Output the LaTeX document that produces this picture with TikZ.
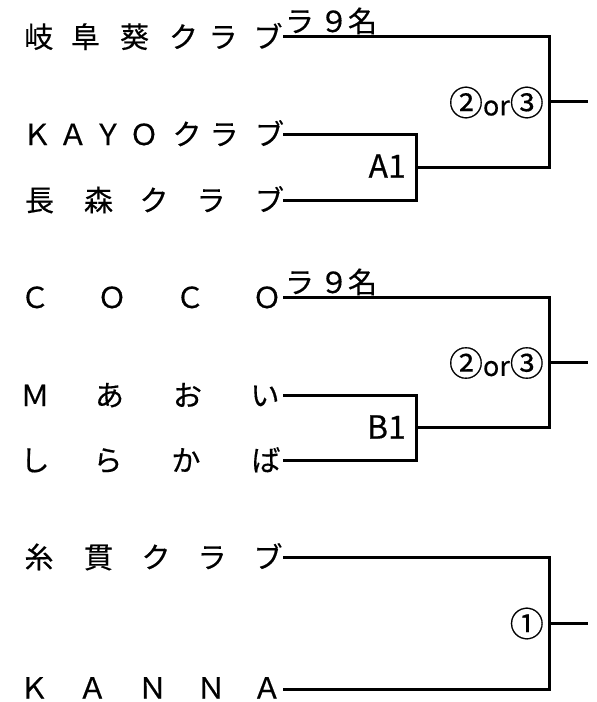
\documentclass[tikz,border=0pt]{standalone}
\usepackage{fontspec}
\setmainfont{Noto Sans CJK JP}[FakeBold=0.4]
\newfontfamily\jpb{Noto Sans CJK JP}[FakeBold=0.4]
\tikzset{
  ch/.style={inner sep=0pt, anchor=base, text depth=0pt, font=\jpb\fontsize{29}{32}\selectfont},
  br/.style={line width=3pt, line join=miter},
  res/.style={inner sep=0pt, anchor=east, font=\jpb\fontsize{27}{30}\selectfont},
  seed/.style={inner sep=0pt, anchor=east, font=\jpb\fontsize{32}{34}\selectfont},
}
\newcommand\cnum[1]{{\fontsize{34}{34}\selectfont #1}}
\newcommand\charrow[4][11]{%
  \foreach \cx/\tch [count=\i] in {#4}{\node[ch] (#2-\i) at (\cx,#3+#1) {\tch};}}
\newcommand\teamrow[4][11]{\charrow[#1]{#2}{#3}{#4}\coordinate (#2) at (283,#3);}
\begin{document}
\begin{tikzpicture}[x=1pt,y=-1pt]
\useasboundingbox[fill=white] (0,0) rectangle (597,702);

% ---- group 1
\teamrow{gifu}{36.7}{38.8/岐,85.5/阜,134.5/葵,183.5/ク,223/ラ,268/ブ}
\charrow{lab1}{21}{299.5/ラ,334/９,362.5/名}
\teamrow{kayo}{134}{37/Ｋ,73/Ａ,108/Ｙ,144/Ｏ,187/ク,224/ラ,269.5/ブ}
\teamrow{naga}{200}{39.5/長,98.5/森,154/ク,211/ラ,269.5/ブ}
\coordinate (JA) at (416,167);
\coordinate (J1) at (549,101.85);
\coordinate (O1) at (588,101.85);
\draw[br] (kayo) -| (JA) |- (naga);
\draw[br] (gifu) -| (J1) |- (JA);
\draw[br] (J1) -- (O1);
\node[seed] (A1) at (406,166) {A1};
\node[res] (R1) at (544,102.5) {\cnum{②}or\cnum{③}};

% ---- group 2
\teamrow{coco}{297}{35/Ｃ,112/Ｏ,190/Ｃ,267/Ｏ}
\charrow{lab2}{282}{299.5/ラ,334/９,362.5/名}
\teamrow{maoi}{395}{35/Ｍ,109.5/あ,187.5/お,265/い}
\teamrow{shira}{460}{35/し,108/ら,186/か,266/ば}
\coordinate (JB) at (416,427.5);
\coordinate (J2) at (549,362.25);
\coordinate (O2) at (588,362.25);
\draw[br] (maoi) -| (JB) |- (shira);
\draw[br] (coco) -| (J2) |- (JB);
\draw[br] (J2) -- (O2);
\node[seed] (B1) at (406,427) {B1};
\node[res] (R2) at (544,363) {\cnum{②}or\cnum{③}};

% ---- group 3
\teamrow{itonuki}{557}{39/糸,98.5/貫,156/ク,212/ラ,268/ブ}
\teamrow[9.5]{kanna}{689}{34/Ｋ,92.5/Ａ,152.5/Ｎ,211/Ｎ,267/Ａ}
\coordinate (J3) at (549,623);
\coordinate (O3) at (588,623);
\draw[br] (itonuki) -| (J3) |- (kanna);
\draw[br] (J3) -- (O3);
\node[res] (R3) at (544,623.5) {\cnum{①}};
\end{tikzpicture}
\end{document}
